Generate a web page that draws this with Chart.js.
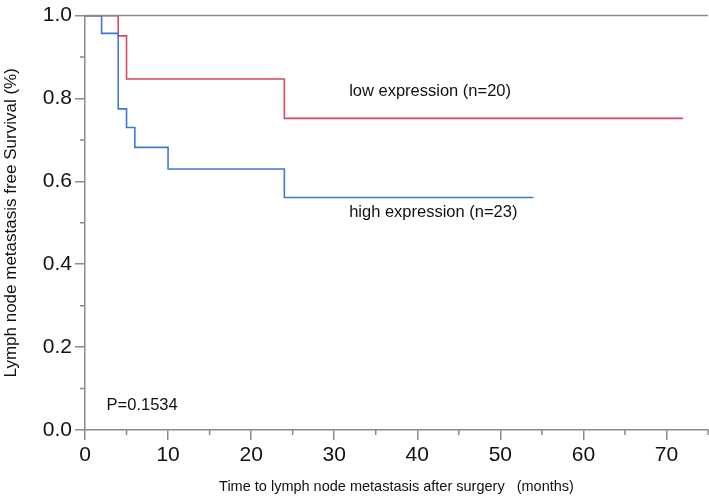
<!DOCTYPE html>
<html>
<head>
<meta charset="utf-8">
<script src="https://cdn.jsdelivr.net/npm/chart.js@4"></script>
<style>
  html, body { margin: 0; padding: 0; background: #fff; }
  #wrap { width: 709px; height: 499px; }
</style>
</head>
<body>
<div id="wrap"><canvas id="kmChart" width="709" height="499"></canvas></div>
<script>
// Kaplan-Meier steps
const highTimes = [0, 2, 4, 5, 6, 10, 24, 54];
const highSurv = [1.0, 0.957, 0.775, 0.73, 0.682, 0.63, 0.561, 0.561];
const lowTimes = [0, 4, 5, 24, 72];
const lowSurv = [1.0, 0.951, 0.847, 0.752, 0.752];
const xTicks = [0, 10, 20, 30, 40, 50, 60, 70];
const yTicks = [0.0, 0.2, 0.4, 0.6, 0.8, 1.0];

const axisGray = '#8a8a8a';
const redLine = '#d8465f';
const blueLine = '#3f78d4';
const font = "'Liberation Sans', Arial, Helvetica, sans-serif";

function toPoints(xs, ys) {
    return xs.map((x, i) => ({ x: x, y: ys[i] }));
}

// minor ticks, top frame line and the text labels inside the plot
const extras = {
    id: 'extras',
    afterDraw(chart) {
        const c = chart.ctx;
        const xs = chart.scales.x;
        const ys = chart.scales.y;
        const area = chart.chartArea;
        c.save();
        c.strokeStyle = axisGray;
        c.lineWidth = 1.5;
        c.beginPath();
        c.moveTo(area.left, area.top);
        c.lineTo(area.right, area.top);
        for (let v = 0.1; v < 1; v += 0.2) {
            const py = ys.getPixelForValue(v);
            c.moveTo(area.left - 5, py);
            c.lineTo(area.left, py);
        }
        for (let v = 5; v <= 75; v += 10) {
            const px = xs.getPixelForValue(v);
            c.moveTo(px, area.bottom);
            c.lineTo(px, area.bottom + 5);
        }
        c.stroke();

        c.fillStyle = '#111';
        c.font = '16.5px ' + font;
        c.textBaseline = 'middle';
        c.textAlign = 'left';
        c.fillText('low expression (n=20)', xs.getPixelForValue(31.8), ys.getPixelForValue(0.818));
        c.fillText('high expression (n=23)', xs.getPixelForValue(31.8), ys.getPixelForValue(0.526));
        c.fillText('P=0.1534', xs.getPixelForValue(2.6), ys.getPixelForValue(0.06));
        c.restore();
    }
};

const ctx = document.getElementById('kmChart').getContext('2d');
const kmChart = new Chart(ctx, {
    type: 'line',
    data: {
        datasets: [{
            label: 'high expression (n=23)',
            data: toPoints(highTimes, highSurv),
            borderColor: blueLine,
            borderWidth: 1.6,
            stepped: true,
            pointRadius: 0,
            fill: false
        }, {
            label: 'low expression (n=20)',
            data: toPoints(lowTimes, lowSurv),
            borderColor: redLine,
            borderWidth: 1.6,
            stepped: true,
            pointRadius: 0,
            fill: false
        }]
    },
    options: {
        responsive: false,
        animation: false,
        layout: { padding: { top: 12, right: 1, left: 0, bottom: 0 } },
        plugins: {
            legend: { display: false },
            tooltip: { enabled: false }
        },
        scales: {
            x: {
                type: 'linear',
                min: 0,
                max: 75,
                afterBuildTicks: s => { s.ticks = xTicks.map(v => ({ value: v })); },
                afterFit: s => { s.height = 69; },
                grid: { drawOnChartArea: false, tickLength: 10, color: axisGray, lineWidth: 1.5 },
                border: { color: axisGray, width: 1.5 },
                ticks: { color: '#111', padding: 3, font: { family: font, size: 21 }, maxRotation: 0 },
                title: {
                    display: true,
                    text: 'Time to lymph node metastasis after surgery   (months)',
                    color: '#111',
                    font: { family: font, size: 14.5 },
                    padding: { top: 0, bottom: 3 }
                }
            },
            y: {
                min: 0,
                max: 1,
                afterBuildTicks: s => { s.ticks = yTicks.map(v => ({ value: v })); },
                afterFit: s => { s.width = 85; },
                grid: { drawOnChartArea: false, tickLength: 10, color: axisGray, lineWidth: 1.5 },
                border: { color: axisGray, width: 1.5 },
                ticks: { color: '#111', padding: 3, font: { family: font, size: 21 }, callback: v => v.toFixed(1) },
                title: {
                    display: true,
                    text: 'Lymph node metastasis free Survival (%)',
                    color: '#111',
                    font: { family: font, size: 17 },
                    padding: { top: 1, bottom: 0 }
                }
            }
        }
    },
    plugins: [extras]
});
</script>
</body>
</html>
